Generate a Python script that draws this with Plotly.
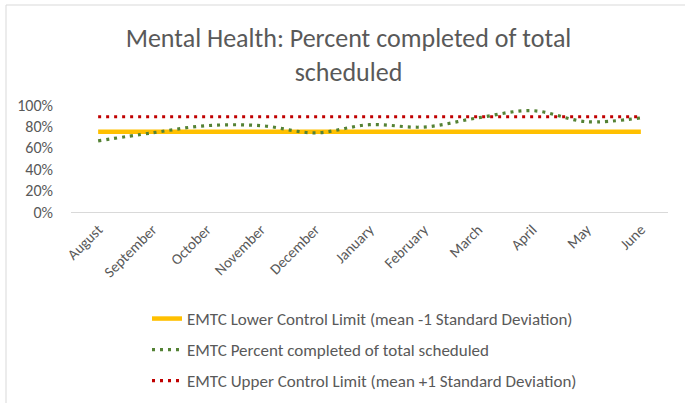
import plotly.graph_objects as go

months = ["August", "September", "October", "November", "December", "January",
          "February", "March", "April", "May", "June"]
percent_completed = [0.665, 0.74, 0.807, 0.807, 0.74, 0.816, 0.794, 0.88, 0.947, 0.844, 0.88]
lower_limit = [0.75] * len(months)
upper_limit = [0.89] * len(months)

names = ["EMTC Lower Control Limit (mean -1 Standard Deviation)",
         "EMTC Percent completed of total scheduled",
         "EMTC Upper Control Limit (mean +1 Standard Deviation)"]

FONT = "Carlito, Lato"
GRAY = "#595959"

fig = go.Figure()
fig.add_trace(go.Scatter(x=months, y=lower_limit, mode="lines", name=names[0],
                         line=dict(color="#FFC000", width=4.5), legend="legend"))
fig.add_trace(go.Scatter(x=months, y=percent_completed, mode="lines", name=names[1],
                         line=dict(color="#548235", width=3.2, dash="3px,5px", shape="spline"),
                         legend="legend2"))
fig.add_trace(go.Scatter(x=months, y=upper_limit, mode="lines", name=names[2],
                         line=dict(color="#C00000", width=3.2, dash="3px,5px"), legend="legend3"))

L, R, T, B = 71, 17, 105, 191
W, H = 685, 403
pw, ph = W - L - R, H - T - B

def px_x(x):
    return (x - L) / pw

def px_y(y):
    return (H - B - y) / ph

leg_common = dict(font=dict(family=FONT, size=17, color=GRAY), bgcolor="rgba(0,0,0,0)",
                  xanchor="left", yanchor="middle", itemwidth=30)

fig.update_layout(
    width=W, height=H,
    margin=dict(l=L, r=R, t=T, b=B, autoexpand=False),
    paper_bgcolor="white", plot_bgcolor="white",
    title=dict(text="Mental Health: Percent completed of total<br>scheduled",
               x=348.5 / W, xref="container", xanchor="center", y=1 - 47 / H, yanchor="top",
               font=dict(family=FONT, size=26, color=GRAY)),
    xaxis=dict(type="category", range=[-0.5, 10.5], showgrid=False, showline=True,
               linecolor="#d9d9d9", linewidth=1, tickangle=-45, automargin=False,
               ticklabelstandoff=2,
               tickfont=dict(family=FONT, size=15, color=GRAY), ticks=""),
    yaxis=dict(range=[0, 1.0], tickvals=[0, 0.2, 0.4, 0.6, 0.8, 1.0], tickformat=".0%",
               showgrid=False, zeroline=False, showline=False, ticks="", automargin=False,
               ticklabelstandoff=17,
               tickfont=dict(family=FONT, size=16, color=GRAY)),
    legend=dict(x=px_x(147), y=px_y(319), **leg_common),
    legend2=dict(x=px_x(147), y=px_y(350), **leg_common),
    legend3=dict(x=px_x(147), y=px_y(381), **leg_common),
    shapes=[dict(type="rect", xref="paper", yref="paper",
                 x0=px_x(6), x1=px_x(700), y0=px_y(420), y1=px_y(5),
                 line=dict(color="#d9d9d9", width=1), layer="below")],
    showlegend=True,
)

fig.write_html("out.html", config={"displayModeBar": False},
               post_script="document.body.style.margin='0';")
